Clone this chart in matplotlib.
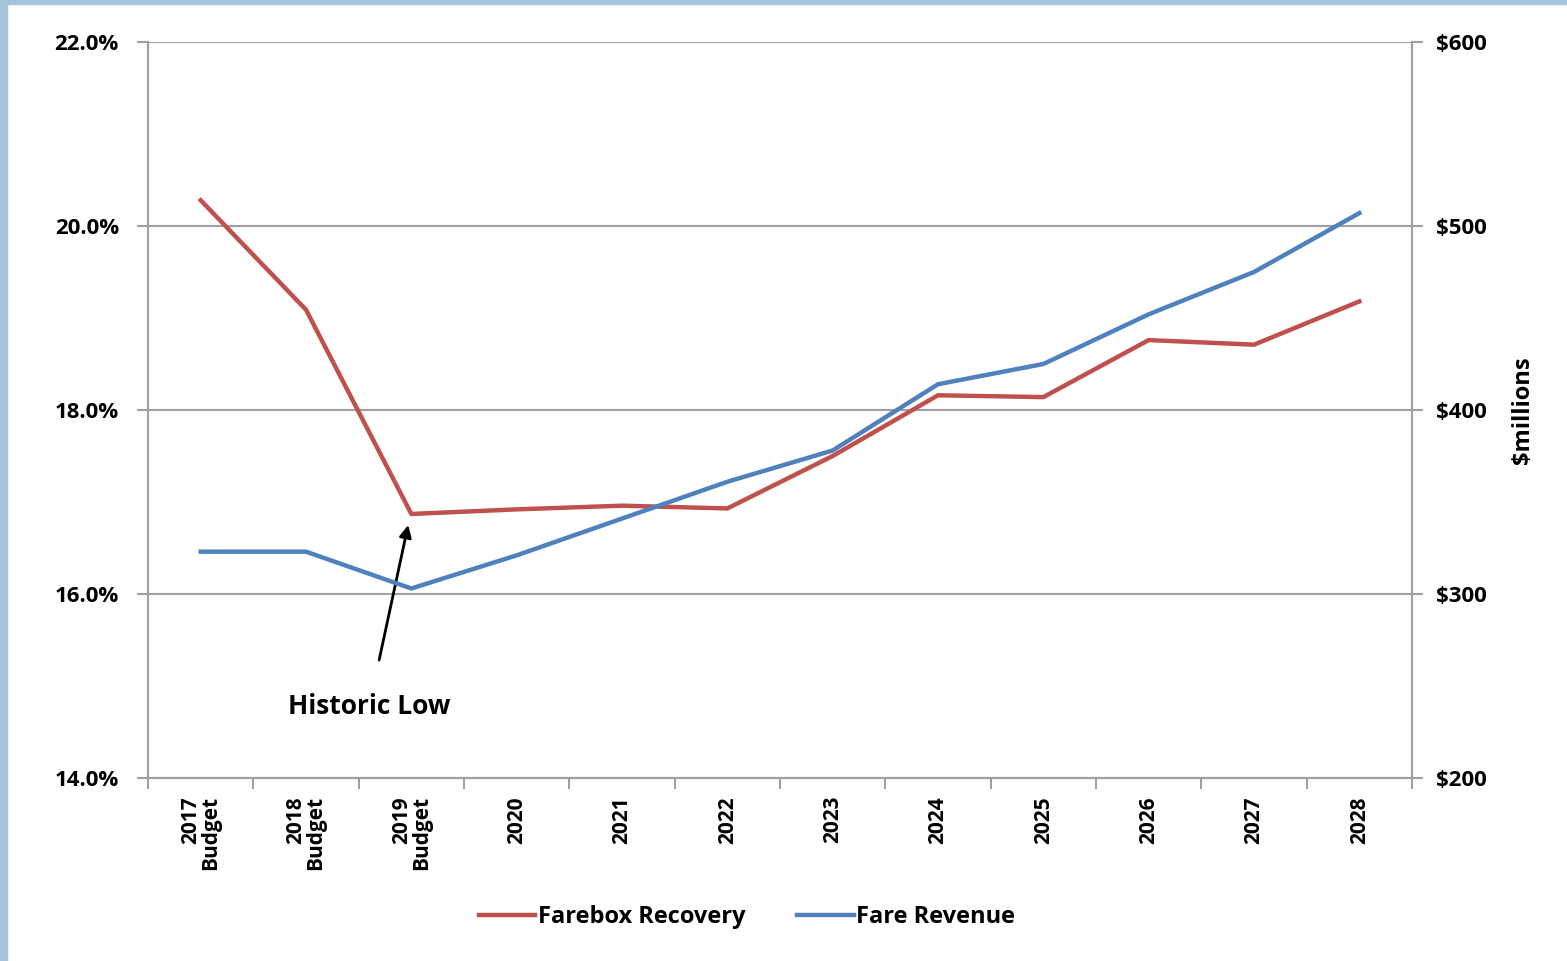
import matplotlib
matplotlib.use("Agg")
import matplotlib.pyplot as plt
from matplotlib.patches import Rectangle
from matplotlib.ticker import FixedLocator, FuncFormatter

plt.rcParams['font.family'] = ['Open Sans', 'DejaVu Sans']
plt.rcParams['font.weight'] = 'bold'

# data
categories = ['2017\nBudget', '2018\nBudget', '2019\nBudget', '2020', '2021', '2022',
              '2023', '2024', '2025', '2026', '2027', '2028']
farebox_recovery = [20.28, 19.09, 16.87, 16.92, 16.96, 16.93, 17.50, 18.16, 18.14, 18.76, 18.71, 19.18]
fare_revenue = [323, 323, 303, 321, 341, 361, 378, 414, 425, 452, 475, 507]

red = '#c0504d'
blue = '#4f81bd'
grey = '#a0a0a0'

fig = plt.figure(figsize=(15.67, 9.61), dpi=100)
ax = fig.add_axes([148 / 1567, 1 - 778 / 961, (1412 - 148) / 1567, (778 - 42) / 961])
ax2 = ax.twinx()

x = list(range(len(categories)))
ax.plot(x, farebox_recovery, color=red, lw=3.2, label='Farebox Recovery', zorder=3)
ax2.plot(x, fare_revenue, color=blue, lw=3.2, label='Fare Revenue', zorder=3)

ax.set_xlim(-0.5, len(categories) - 0.5)
ax.set_ylim(14, 22)
ax2.set_ylim(200, 600)
ax.set_yticks([14, 16, 18, 20, 22])
ax2.set_yticks([200, 300, 400, 500, 600])
ax.yaxis.set_major_formatter(FuncFormatter(lambda v, p: f'{v:.1f}%'))
ax2.yaxis.set_major_formatter(FuncFormatter(lambda v, p: f'${v:.0f}'))

# category labels centred, ticks on the boundaries
ax.set_xticks(x)
ax.set_xticklabels(categories, rotation=90, fontsize=15, fontweight='bold',
                   multialignment='right', va='top', linespacing=0.95)
ax.tick_params(axis='x', which='major', length=0, pad=13)
ax.xaxis.set_minor_locator(FixedLocator([i - 0.5 for i in range(len(categories) + 1)]))
ax.tick_params(axis='x', which='minor', length=8, color=grey, width=1.5)

ax.tick_params(axis='y', length=8, color=grey, width=1.5, labelsize=16, pad=13)
ax2.tick_params(axis='y', length=8, color=grey, width=1.5, labelsize=16, pad=9)
for lab in ax.get_yticklabels() + ax2.get_yticklabels():
    lab.set_fontweight('bold')

ax.grid(axis='y', color=grey, lw=1.5, zorder=0)
for a in (ax, ax2):
    for s in a.spines.values():
        s.set_color(grey)
        s.set_linewidth(1.5)
ax.spines['top'].set_visible(False)
ax2.spines['top'].set_visible(False)

ax2.set_ylabel('\\$millions', fontsize=17, fontweight='bold', labelpad=18)

ax.annotate('Historic Low', xy=(1.97, 16.75), xytext=(1.6, 14.78),
            fontsize=19, fontweight='bold', ha='center', va='center',
            arrowprops=dict(arrowstyle='-|>', color='black', lw=2, mutation_scale=18,
                            shrinkA=22, shrinkB=0))

h1, l1 = ax.get_legend_handles_labels()
h2, l2 = ax2.get_legend_handles_labels()
fig.legend(h1 + h2, l1 + l2, loc='center', bbox_to_anchor=(747 / 1567, 1 - 917 / 961),
           ncol=2, frameon=False, prop={'weight': 'bold', 'size': 17},
           handlelength=2.4, handletextpad=0.1, columnspacing=2.2)

# light blue frame strips at left and top
fig.patches.append(Rectangle((0, 0), 7 / 1567, 1, transform=fig.transFigure,
                             color='#a4c4dc', zorder=10))
fig.patches.append(Rectangle((0, 1 - 4 / 961), 1, 4 / 961, transform=fig.transFigure,
                             color='#a4c4dc', zorder=10))

fig.savefig('out.png', dpi=100)
